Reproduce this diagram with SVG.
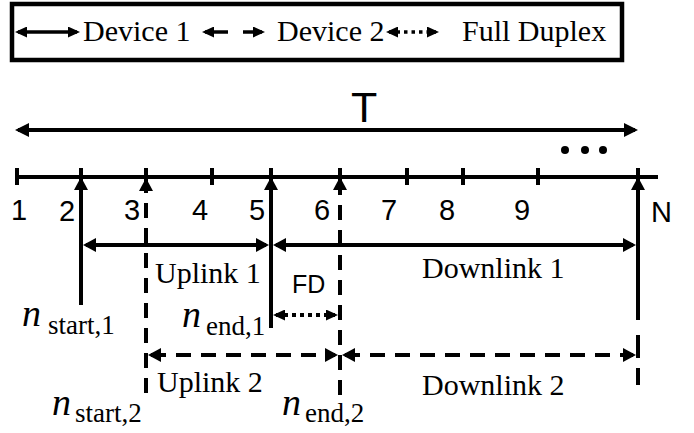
<svg xmlns="http://www.w3.org/2000/svg" width="694" height="433" viewBox="0 0 694 433">
<style>
.serif{font-family:"Liberation Serif","Times New Roman",serif;font-size:30px;fill:#000}
.sans{font-family:"Liberation Sans",Arial,sans-serif;font-size:29px;fill:#000}
.big{font-size:43px}
.fd{font-size:25px}
.it{font-family:"Liberation Serif","Times New Roman",serif;font-style:italic;font-size:38px;fill:#000}
.sub{font-family:"Liberation Serif","Times New Roman",serif;font-size:27px;fill:#000}
.ln{stroke:#000;stroke-width:4;fill:none}
.lg{stroke:#000;stroke-width:3.5;fill:none}
.dash{stroke-dasharray:15 10}
.dot{stroke-dasharray:4 4}
</style>
<defs>
<marker id="big" viewBox="0 0 14 14" refX="11" refY="7" markerWidth="14" markerHeight="14" markerUnits="userSpaceOnUse" orient="auto-start-reverse"><path d="M0,0 L14,7 L0,14 z" fill="#000"/></marker>
<marker id="ah" viewBox="0 0 13 14" refX="10" refY="7" markerWidth="13" markerHeight="14" markerUnits="userSpaceOnUse" orient="auto-start-reverse"><path d="M0,0 L13,7 L0,14 z" fill="#000"/></marker>
<marker id="sm" viewBox="0 0 12 11" refX="9" refY="5.5" markerWidth="12" markerHeight="11" markerUnits="userSpaceOnUse" orient="auto-start-reverse"><path d="M0,0 L12,5.5 L0,11 z" fill="#000"/></marker>
</defs>
<rect width="694" height="433" fill="#fff"/>

<g id="legend">
<rect x="12" y="4" width="610" height="56" fill="#fff" stroke="#000" stroke-width="4.5"/>
<line class="lg" x1="18" y1="32" x2="77" y2="32" marker-start="url(#sm)" marker-end="url(#sm)"/>
<text class="serif" x="83" y="41">Device 1</text>
<line class="lg" x1="228" y1="32" x2="205" y2="32" marker-end="url(#sm)"/>
<line class="lg" x1="243" y1="32" x2="262" y2="32" marker-end="url(#sm)"/>
<text class="serif" x="277" y="41">Device 2</text>
<line class="lg" x1="389" y1="32" x2="436" y2="32" stroke-dasharray="3.5 4" marker-start="url(#sm)" marker-end="url(#sm)"/>
<text class="serif" x="462" y="41">Full Duplex</text>
</g>

<g id="axis">
<line class="ln" x1="18" y1="130" x2="635" y2="130" marker-start="url(#big)" marker-end="url(#big)"/>
<text class="sans big" x="351" y="122">T</text>
<circle cx="565" cy="150" r="4"/>
<circle cx="585" cy="150" r="4"/>
<circle cx="603" cy="150" r="4"/>
<line class="ln" x1="15" y1="177" x2="658" y2="177"/>
<path class="ln" d="M17,168V185M81,168V185M146,168V185M212,168V185M271,168V185M340,168V185M407,168V185M463,168V185M538,168V185M638,168V185"/>
<text class="sans" x="11" y="220">1</text>
<text class="sans" x="59" y="221">2</text>
<text class="sans" x="124" y="220">3</text>
<text class="sans" x="192" y="220">4</text>
<text class="sans" x="249" y="220">5</text>
<text class="sans" x="314" y="220">6</text>
<text class="sans" x="381" y="220">7</text>
<text class="sans" x="439" y="220">8</text>
<text class="sans" x="514" y="220">9</text>
<text class="sans" x="651" y="222">N</text>
</g>

<g id="connectors">
<line class="ln" x1="81" y1="305" x2="81" y2="180" marker-end="url(#ah)"/>
<line class="ln dash" x1="146" y1="393" x2="146" y2="181" marker-end="url(#ah)"/>
<line class="ln" x1="271" y1="328" x2="271" y2="180" marker-end="url(#ah)"/>
<line class="ln dash" x1="340" y1="395" x2="340" y2="180" marker-end="url(#ah)"/>
<line class="ln" x1="638" y1="320" x2="638" y2="180" marker-end="url(#ah)"/>
<line class="ln" x1="638" y1="335" x2="638" y2="385" stroke-dasharray="23 10"/>
<line class="ln" x1="86" y1="245" x2="266" y2="245" marker-start="url(#ah)" marker-end="url(#ah)"/>
<line class="ln" x1="276" y1="245" x2="633" y2="245" marker-start="url(#ah)" marker-end="url(#ah)"/>
<line class="ln dot" x1="276" y1="315" x2="335" y2="315" marker-start="url(#sm)" marker-end="url(#sm)"/>
<line class="ln dash" x1="151" y1="355" x2="335" y2="355" marker-start="url(#ah)" marker-end="url(#ah)"/>
<line class="ln dash" x1="345" y1="355" x2="633" y2="355" marker-start="url(#ah)" marker-end="url(#ah)"/>
</g>

<g id="labels">
<text class="serif" x="155" y="283">Uplink 1</text>
<text class="serif" x="422" y="278">Downlink 1</text>
<text class="sans fd" x="292" y="293">FD</text>
<text class="serif" x="157" y="392">Uplink 2</text>
<text class="serif" x="422" y="395">Downlink 2</text>
<g id="n_start_1"><text class="it" x="22" y="326">n</text><text class="sub" x="48" y="334">start,1</text></g>
<g id="n_end_1"><text class="it" x="182" y="327">n</text><text class="sub" x="206" y="335">end,1</text></g>
<g id="n_start_2"><text class="it" x="52" y="415">n</text><text class="sub" x="75" y="422">start,2</text></g>
<g id="n_end_2"><text class="it" x="282" y="415">n</text><text class="sub" x="305" y="422">end,2</text></g>
</g>
</svg>
